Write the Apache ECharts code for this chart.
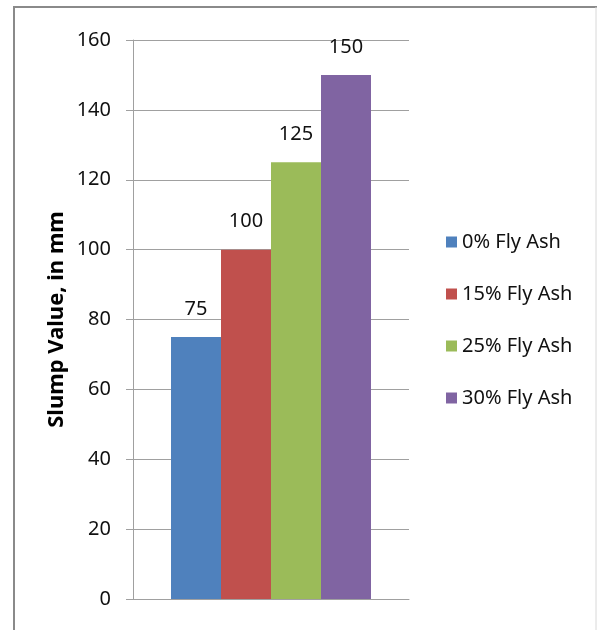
<!DOCTYPE html>
<html>
<head>
<meta charset="utf-8">
<script src="https://cdn.jsdelivr.net/npm/echarts@6/dist/echarts.min.js"></script>
<style>
  html, body { margin: 0; padding: 0; background: #fff; }
  #chart { width: 597px; height: 630px; }
</style>
</head>
<body>
<div id="chart"></div>
<script>
// Slump values of concrete mixes with different fly ash replacement
const categories = [''];
const seriesNames = ['0% Fly Ash', '15% Fly Ash', '25% Fly Ash', '30% Fly Ash'];
const slumpValues = [75, 100, 125, 150];
const seriesColors = ['#4F81BD', '#C0504D', '#9BBB59', '#8064A2'];
const yTicks = [0, 20, 40, 60, 80, 100, 120, 140, 160];

const FONT = '"Noto Sans", sans-serif';
const chart = echarts.init(document.getElementById('chart'), null, { renderer: 'canvas' });

const series = seriesNames.map((name, i) => ({
  name: name,
  type: 'bar',
  data: [slumpValues[i]],
  barWidth: 50,
  barGap: '0%',
  itemStyle: { color: seriesColors[i] },
  label: {
    show: true,
    position: 'top',
    distance: 18,
    color: '#111',
    fontFamily: FONT,
    fontSize: 20
  }
}));

chart.setOption({
  animation: false,
  backgroundColor: '#fff',
  graphic: [
    { type: 'line', shape: { x1: 14, y1: 7, x2: 14, y2: 640 }, style: { stroke: '#8a8a8a', lineWidth: 2 } },
    { type: 'line', shape: { x1: 13, y1: 7, x2: 597, y2: 7 }, style: { stroke: '#8a8a8a', lineWidth: 2 } },
    { type: 'line', shape: { x1: 596, y1: 7, x2: 596, y2: 640 }, style: { stroke: '#d8d8d8', lineWidth: 1 } }
  ],
  grid: { left: 133, right: 188, top: 40, bottom: 31, containLabel: false },
  legend: {
    orient: 'vertical',
    left: 446,
    top: 232,
    padding: 0,
    itemWidth: 11,
    itemHeight: 11,
    itemGap: 32,
    icon: 'rect',
    data: seriesNames,
    textStyle: { fontFamily: FONT, fontSize: 20, color: '#111', lineHeight: 20 }
  },
  xAxis: {
    type: 'category',
    data: categories,
    axisLine: { show: true, lineStyle: { color: '#a0a0a0', width: 1 } },
    axisTick: { show: false },
    axisLabel: { show: false },
    splitLine: { show: false }
  },
  yAxis: {
    type: 'value',
    min: yTicks[0],
    max: yTicks[yTicks.length - 1],
    interval: 20,
    name: 'Slump Value, in mm',
    nameLocation: 'middle',
    nameRotate: 90,
    nameGap: 65,
    nameTextStyle: { fontFamily: FONT, fontSize: 22, fontWeight: 'bold', color: '#000' },
    axisLine: { show: true, lineStyle: { color: '#a0a0a0', width: 1 } },
    axisTick: { show: true, inside: false, length: 7, lineStyle: { color: '#a0a0a0' } },
    axisLabel: { margin: 22, fontFamily: FONT, fontSize: 20, color: '#111' },
    splitLine: { show: true, lineStyle: { color: '#a0a0a0', width: 1 } }
  },
  series: series
});
</script>
</body>
</html>
